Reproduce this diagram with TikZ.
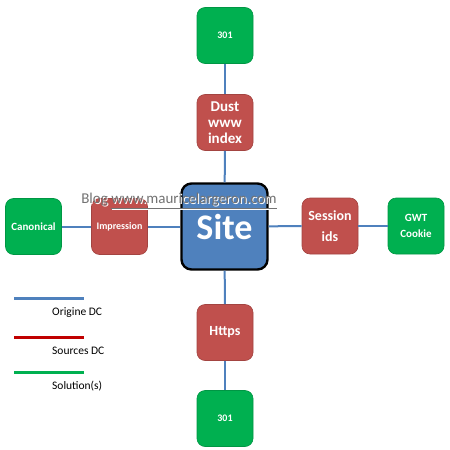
\documentclass[tikz,border=0pt]{standalone}
\usepackage{fontspec}
\setmainfont{Carlito}
\definecolor{cblue}{HTML}{4F81BD}
\definecolor{cred}{HTML}{C0504D}
\definecolor{cgreen}{HTML}{00B050}
\definecolor{lred}{HTML}{C00000}
\begin{document}
\begin{tikzpicture}[x=1pt,y=-1pt,
  box/.style={rounded corners=8pt, minimum width=56pt, minimum height=56pt, inner sep=1pt,
    text=white, font=\bfseries, align=center},
  redbox/.style={box, fill=cred, draw=cred!85!black, line width=0.6pt},
  greenbox/.style={box, fill=cgreen, draw=cgreen!85!black, line width=0.6pt},
  link/.style={draw=cblue, line width=2pt},
  legline/.style={line width=3pt},
  legtext/.style={anchor=west, inner sep=0pt, font=\fontsize{11.5}{12}\selectfont},
  wmark/.style={inner sep=0pt, font=\fontsize{15}{16}\selectfont}]
\useasboundingbox (0,0) rectangle (450,450);
% nodes
\node[box, fill=cblue, draw=black, line width=2.4pt, minimum width=86pt, minimum height=86pt,
  rounded corners=10pt, font=\fontsize{36}{40}\selectfont\bfseries] (site) at (224.5,226.5) {Site};
\node[greenbox, font=\fontsize{10}{12}\selectfont\bfseries] (top) at (225,35.5) {301};
\node[redbox, font=\fontsize{15}{16}\selectfont\bfseries] (dust) at (225,122.5) {Dust\\www\\index};
\node[redbox, font=\fontsize{14}{14}\selectfont\bfseries] (https) at (225,332.5) {Https};
\node[greenbox, font=\fontsize{10}{12}\selectfont\bfseries] (bot) at (225,418.5) {301};
\node[greenbox, font=\fontsize{11}{12}\selectfont\bfseries] (canon) at (33.5,226.5) {Canonical};
\node[redbox, font=\fontsize{10}{12}\selectfont\bfseries] (impr) at (119.5,226.5) {Impression};
\node[redbox, font=\fontsize{14}{21}\selectfont\bfseries] (sess) at (330,226) {Session\\ids};
\node[greenbox, font=\fontsize{11}{16}\selectfont\bfseries] (gwt) at (416,226) {GWT\\Cookie};
% connectors
\draw[link] (top) -- (dust);
\draw[link] (dust) -- (site);
\draw[link] (site) -- (https);
\draw[link] (https) -- (bot);
\draw[link] (canon) -- (impr);
\draw[link] (impr) -- (site);
\draw[link] (site) -- (sess);
\draw[link] (sess) -- (gwt);
% watermark
\node[wmark, text=white] (wmshadow) at (180,202) {Blog \underline{www.mauricelargeron.com}};
\node[wmark, text=black!55] (wm) at (179,201) {Blog \underline{www.mauricelargeron.com}};
% legend
\coordinate (l1a) at (14,298); \coordinate (l1b) at (84,298);
\coordinate (l2a) at (14,337); \coordinate (l2b) at (84,337);
\coordinate (l3a) at (14,372); \coordinate (l3b) at (84,372);
\draw[legline, cblue] (l1a) -- (l1b);
\draw[legline, lred] (l2a) -- (l2b);
\draw[legline, cgreen] (l3a) -- (l3b);
\node[legtext] (t1) at (52,313) {Origine DC};
\node[legtext] (t2) at (52,351) {Sources DC};
\node[legtext] (t3) at (52,386) {Solution(s)};
\end{tikzpicture}
\end{document}
